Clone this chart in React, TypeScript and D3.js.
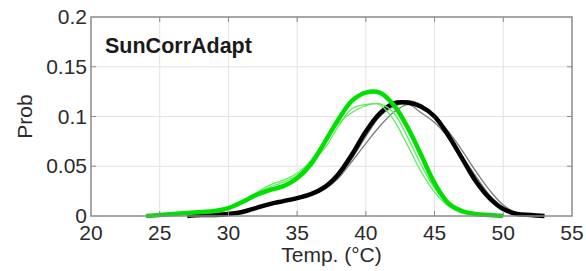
import React from 'react';
import * as d3 from 'd3';

// temperature grid (°C) shared by all curves
const temps = [23, 24, 25, 26, 27, 28, 29, 30, 31, 32, 33, 34, 35, 36, 37, 38, 39, 40,
  41, 42, 43, 44, 45, 46, 47, 48, 49, 50, 51, 52, 53];

// null = curve not drawn at that temperature
const greenMain = [null, 0, 0.001, 0.002, 0.003, 0.004, 0.005, 0.008, 0.014, 0.021, 0.026, 0.03, 0.038, 0.052,
  0.074, 0.097, 0.116, 0.124, 0.124, 0.112, 0.09, 0.062, 0.033, 0.013, 0.005, 0.002, 0.001, 0, null, null, null];
const greenThinA = [null, 0, 0.001, 0.002, 0.003, 0.004, 0.006, 0.009, 0.015, 0.023, 0.031, 0.036, 0.043, 0.055,
  0.068, 0.09, 0.108, 0.112, 0.112, 0.097, 0.072, 0.045, 0.024, 0.01, 0.003, 0.001, 0, null, null, null, null];
const greenThinB = [null, 0, 0.001, 0.002, 0.003, 0.004, 0.005, 0.008, 0.014, 0.022, 0.029, 0.034, 0.041, 0.056,
  0.075, 0.093, 0.104, 0.111, 0.113, 0.104, 0.08, 0.052, 0.028, 0.012, 0.004, 0.001, 0, null, null, null, null];

const blackMain = [null, null, null, null, 0, 0.001, 0.001, 0.002, 0.004, 0.008, 0.012, 0.015, 0.018, 0.022,
  0.029, 0.042, 0.062, 0.085, 0.103, 0.113, 0.114, 0.11, 0.1, 0.081, 0.058, 0.035, 0.018, 0.007, 0.002, 0.001, 0];
const grayA = [null, null, null, null, null, 0, 0.001, 0.002, 0.004, 0.007, 0.011, 0.014, 0.017, 0.021,
  0.027, 0.038, 0.055, 0.073, 0.09, 0.104, 0.112, 0.11, 0.1, 0.085, 0.066, 0.045, 0.026, 0.011, 0.003, 0, null];
const grayB = [null, null, null, null, null, 0, 0.001, 0.002, 0.004, 0.008, 0.012, 0.015, 0.018, 0.022,
  0.028, 0.04, 0.058, 0.08, 0.1, 0.111, 0.116, 0.112, 0.1, 0.08, 0.06, 0.04, 0.021, 0.008, 0.002, 0, null];
const grayC = [null, null, null, null, null, 0, 0.001, 0.002, 0.004, 0.008, 0.012, 0.015, 0.019, 0.023,
  0.03, 0.043, 0.062, 0.083, 0.1, 0.11, 0.113, 0.104, 0.094, 0.079, 0.06, 0.038, 0.019, 0.007, 0.002, 0, null];

const xTicks = [20, 25, 30, 35, 40, 45, 50, 55];
const yTicks = [0, 0.05, 0.1, 0.15, 0.2];
const yTickLabels = ['0', '0.05', '0.1', '0.15', '0.2'];

const W = 586, H = 271;
const m = { left: 91, right: 14, top: 17, bottom: 55 };
const font = '"Liberation Sans", Arial, sans-serif';

export default function App() {
  const x = d3.scaleLinear().domain([20, 55]).range([m.left, W - m.right]);
  const y = d3.scaleLinear().domain([0, 0.2]).range([H - m.bottom, m.top]);
  const line = d3.line<number | null>()
    .defined(d => d != null)
    .x((_, i) => x(temps[i]))
    .y(d => y(d as number))
    .curve(d3.curveCatmullRom);

  const x0 = x(20), x1 = x(55), y0 = y(0), y1 = y(0.2);
  const axisCol = '#8a8a8a';
  const textCol = '#2b2b2b';

  return (
    <div style={{ position: 'absolute', left: 0, top: 0 }}>
      <svg width={W} height={H} style={{ display: 'block', background: '#fff' }}>
        {/* grid */}
        {xTicks.slice(1, -1).map(t => (
          <line key={'gx' + t} x1={x(t)} x2={x(t)} y1={y1} y2={y0} stroke="#e3e3e3" strokeWidth={1} />
        ))}
        {yTicks.slice(1, -1).map(t => (
          <line key={'gy' + t} x1={x0} x2={x1} y1={y(t)} y2={y(t)} stroke="#e3e3e3" strokeWidth={1} />
        ))}
        {/* curves */}
        {[grayA, grayB, grayC].map((s, i) => (
          <path key={'g' + i} d={line(s) || ''} fill="none" stroke="#7a7a7a" strokeWidth={1.3} />
        ))}
        <path d={line(blackMain) || ''} fill="none" stroke="#000" strokeWidth={4.5} strokeLinejoin="round" />
        {[greenThinA, greenThinB].map((s, i) => (
          <path key={'lg' + i} d={line(s) || ''} fill="none" stroke="#5fea5f" strokeWidth={1.3} />
        ))}
        <path d={line(greenMain) || ''} fill="none" stroke="#00e000" strokeWidth={4.5} strokeLinejoin="round" />
        {/* box */}
        <rect x={x0} y={y1} width={x1 - x0} height={y0 - y1} fill="none" stroke={axisCol} strokeWidth={1.5} />
        {xTicks.slice(1, -1).map(t => (
          <g key={'tx' + t}>
            <line x1={x(t)} x2={x(t)} y1={y0} y2={y0 - 5} stroke={axisCol} />
            <line x1={x(t)} x2={x(t)} y1={y1} y2={y1 + 5} stroke={axisCol} />
          </g>
        ))}
        {yTicks.slice(1, -1).map(t => (
          <g key={'ty' + t}>
            <line x1={x0} x2={x0 + 5} y1={y(t)} y2={y(t)} stroke={axisCol} />
            <line x1={x1} x2={x1 - 5} y1={y(t)} y2={y(t)} stroke={axisCol} />
          </g>
        ))}
        {/* tick labels */}
        {xTicks.map(t => (
          <text key={'lx' + t} x={x(t)} y={y0 + 24} textAnchor="middle" fontFamily={font} fontSize={21} fill={textCol}>{t}</text>
        ))}
        {yTicks.map((t, i) => (
          <text key={'ly' + t} x={x0 - 4} y={y(t) + 7} textAnchor="end" fontFamily={font} fontSize={21} fill={textCol}>{yTickLabels[i]}</text>
        ))}
        <text x={(x0 + x1) / 2} y={H - 9} textAnchor="middle" fontFamily={font} fontSize={21} fill={textCol}>Temp. (°C)</text>
        <text transform={`translate(32,${(y0 + y1) / 2}) rotate(-90)`} textAnchor="middle" fontFamily={font} fontSize={21} fill={textCol}>Prob</text>
        <text x={105} y={53} fontFamily={font} fontSize={21.5} fontWeight="bold" fill="#1a1a1a">SunCorrAdapt</text>
      </svg>
    </div>
  );
}
